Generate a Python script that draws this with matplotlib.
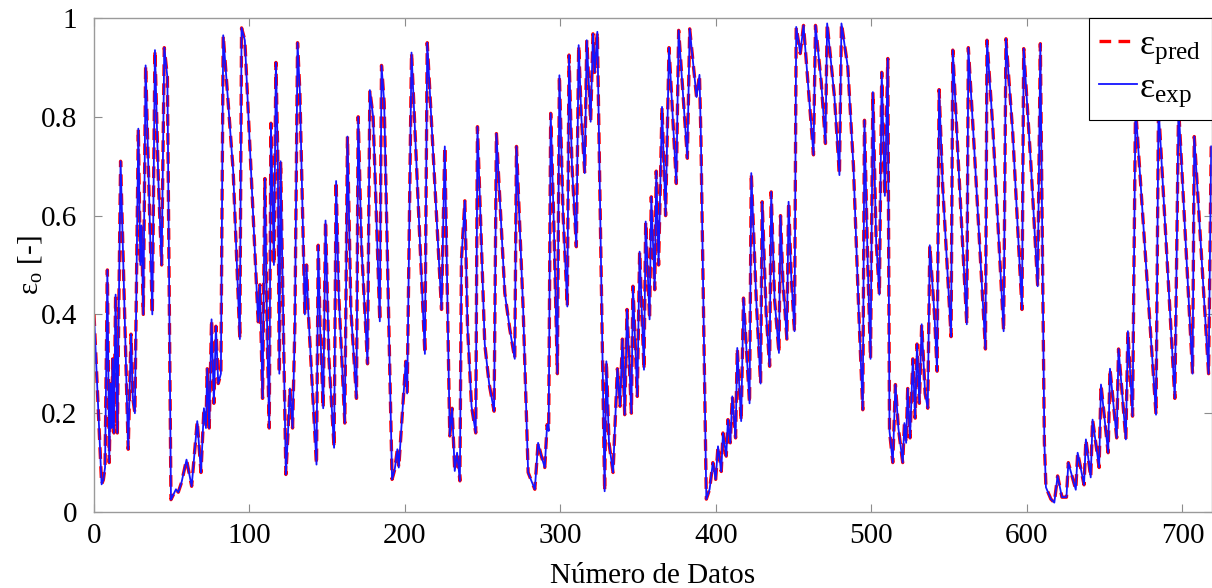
import matplotlib
matplotlib.use("Agg")
import matplotlib.pyplot as plt

plt.rcParams["font.family"] = ["Liberation Serif", "DejaVu Serif"]
plt.rcParams["mathtext.fontset"] = "custom"
plt.rcParams["mathtext.rm"] = "Liberation Serif"
plt.rcParams["mathtext.it"] = "Liberation Serif:italic"

# turning points of the series (data index, epsilon_o)
idx = [
    0, 4.9, 6.0, 7.1, 8.6, 9.8, 10.7, 11.4, 12.0, 12.8, 13.9, 15.0, 17.1, 22.0,
    23.8, 25.0, 26.3, 28.5, 29.8, 30.6, 31.7, 33.2, 35.6, 37.5, 39.2, 41.3,
    43.5, 45.2, 47.2, 49.5, 52.7, 54.2, 56.3, 59.5, 62.8, 66.4, 68.8, 70.7,
    72.0, 72.8, 74.1, 75.6, 77.1, 78.4, 79.9, 81.6, 83.1, 89.5, 93.8, 94.9,
    97.0, 104.6, 105.6, 106.7, 108.4, 109.9, 111.5, 112.7, 113.8, 115.7, 117.0,
    118.2, 119.2, 120.0, 123.4, 124.6, 126.0, 127.7, 129.2, 130.9, 132.4,
    135.6, 136.7, 137.7, 143.1, 144.2, 145.4, 147.4, 148.9, 151.0, 154.4,
    155.7, 157.4, 161.3, 163.0, 165.2, 168.8, 169.9, 172.0, 175.9, 177.4,
    179.5, 183.8, 184.9, 186.6, 191.7, 193.4, 195.1, 196.0, 197.7, 199.0,
    200.5, 201.4, 204.2, 212.8, 214.3, 223.5, 225.6, 228.8, 230.3, 232.0,
    233.5, 235.3, 236.3, 238.5, 240.2, 242.8, 245.5, 246.6, 251.3, 254.1,
    257.3, 258.8, 260.1, 264.2, 267.4, 270.6, 271.7, 276.0, 279.2, 281.3,
    283.5, 285.6, 287.7, 289.9, 291.4, 292.4, 293.7, 295.7, 298.0, 299.3,
    301.7, 304.4, 305.5, 307.4, 310.2, 311.7, 313.4, 315.6, 316.9, 319.4,
    320.9, 322.0, 323.7, 328.4, 329.5, 331.2, 333.8, 336.6, 338.3, 339.8,
    341.3, 342.8, 345.6, 346.6, 349.4, 350.9, 353.7, 354.8, 357.3, 358.4,
    360.6, 361.6, 363.1, 365.3, 367.6, 369.8, 374.5, 376.0, 381.6, 383.1,
    387.5, 389.4, 390.3, 393.8, 395.9, 398.0, 399.8, 401.3, 403.4, 404.5,
    406.6, 407.7, 409.2, 410.5, 412.6, 413.7, 416.2, 417.7, 421.6, 422.7,
    425.9, 428.7, 429.7, 432.3, 434.5, 435.5, 437.7, 440.5, 441.5, 443.0,
    445.6, 446.7, 448.4, 450.5, 451.6, 454.2, 456.3, 459.1, 462.7, 464.0,
    467.7, 470.4, 471.5, 476.2, 479.4, 480.7, 484.8, 488.4, 491.9, 494.4,
    495.5, 497.6, 499.4, 500.9, 503.0, 505.1, 506.6, 508.6, 510.5, 511.6,
    513.7, 515.4, 517.3, 520.1, 521.2, 522.3, 523.3, 524.8, 526.6, 528.1,
    529.3, 530.8, 532.3, 534.5, 536.2, 537.5, 540.5, 542.2, 543.5, 545.8,
    551.2, 552.3, 555.5, 561.3, 562.3, 566.2, 573.3, 574.3, 578.0, 585.0,
    586.5, 590.8, 596.8, 597.9, 602.6, 606.9, 608.6, 611.2, 612.2, 615.4,
    617.6, 619.7, 622.5, 625.4, 626.6, 631.4, 632.6, 636.7, 637.9, 641.0,
    642.2, 646.4, 647.6, 652.2, 653.4, 657.7, 658.9, 663.6, 664.9, 667.9,
    669.8, 683.0, 684.6, 695.1, 697.5, 706.5, 707.6, 716.8, 718.5,
]

eps_exp = [
    0.40, 0.056, 0.065, 0.09, 0.49, 0.10, 0.26, 0.17, 0.31, 0.16, 0.44, 0.16,
    0.71, 0.127, 0.36, 0.23, 0.20, 0.776, 0.50, 0.58, 0.40, 0.904, 0.62, 0.40,
    0.935, 0.68, 0.50, 0.94, 0.88, 0.025, 0.046, 0.04, 0.06, 0.106, 0.052,
    0.184, 0.08, 0.21, 0.17, 0.29, 0.17, 0.39, 0.22, 0.376, 0.26, 0.28, 0.965,
    0.69, 0.35, 0.98, 0.955, 0.45, 0.385, 0.46, 0.23, 0.675, 0.34, 0.17, 0.787,
    0.50, 0.91, 0.72, 0.28, 0.71, 0.076, 0.15, 0.25, 0.17, 0.38, 0.95, 0.85,
    0.40, 0.50, 0.41, 0.096, 0.54, 0.376, 0.21, 0.59, 0.315, 0.13, 0.67, 0.44,
    0.18, 0.76, 0.41, 0.23, 0.80, 0.54, 0.30, 0.854, 0.80, 0.386, 0.904, 0.83,
    0.066, 0.086, 0.127, 0.09, 0.17, 0.23, 0.305, 0.24, 0.93, 0.32, 0.95, 0.41,
    0.74, 0.154, 0.21, 0.083, 0.12, 0.063, 0.51, 0.63, 0.376, 0.214, 0.16,
    0.78, 0.34, 0.26, 0.204, 0.766, 0.686, 0.443, 0.37, 0.31, 0.74, 0.41, 0.08,
    0.063, 0.046, 0.14, 0.113, 0.09, 0.177, 0.164, 0.807, 0.585, 0.28, 0.884,
    0.60, 0.416, 0.925, 0.70, 0.537, 0.945, 0.80, 0.686, 0.955, 0.79, 0.968,
    0.89, 0.972, 0.042, 0.305, 0.14, 0.08, 0.29, 0.214, 0.35, 0.197, 0.41,
    0.20, 0.457, 0.234, 0.527, 0.288, 0.588, 0.39, 0.638, 0.45, 0.69, 0.50,
    0.82, 0.60, 0.94, 0.665, 0.975, 0.716, 0.978, 0.84, 0.885, 0.76, 0.026,
    0.046, 0.10, 0.066, 0.133, 0.082, 0.16, 0.113, 0.187, 0.14, 0.234, 0.15,
    0.332, 0.184, 0.433, 0.22, 0.686, 0.43, 0.26, 0.628, 0.40, 0.295, 0.648,
    0.43, 0.322, 0.60, 0.47, 0.35, 0.628, 0.477, 0.366, 0.982, 0.928, 0.985,
    0.87, 0.723, 0.985, 0.87, 0.746, 0.989, 0.84, 0.682, 0.989, 0.90, 0.70,
    0.40, 0.207, 0.793, 0.50, 0.31, 0.85, 0.55, 0.44, 0.89, 0.64, 0.918, 0.164,
    0.10, 0.258, 0.17, 0.10, 0.18, 0.14, 0.25, 0.15, 0.31, 0.19, 0.34, 0.22,
    0.38, 0.24, 0.21, 0.54, 0.40, 0.285, 0.855, 0.66, 0.355, 0.935, 0.73, 0.38,
    0.94, 0.73, 0.33, 0.955, 0.78, 0.366, 0.958, 0.77, 0.41, 0.938, 0.70,
    0.457, 0.948, 0.14, 0.05, 0.026, 0.019, 0.073, 0.03, 0.03, 0.10, 0.045,
    0.12, 0.055, 0.147, 0.07, 0.187, 0.09, 0.258, 0.12, 0.29, 0.15, 0.33,
    0.147, 0.366, 0.194, 0.82, 0.197, 0.82, 0.23, 0.82, 0.28, 0.76, 0.28, 0.74,
]

# the model follows the measurements so closely that both traces coincide
eps_pred = list(eps_exp)

xticks = [0, 100, 200, 300, 400, 500, 600, 700]
yticks = [0, 0.2, 0.4, 0.6, 0.8, 1]
ytick_labels = ["0", "0.2", "0.4", "0.6", "0.8", "1"]

fig = plt.figure(figsize=(12.12, 5.88), dpi=100)
ax = fig.add_axes([94 / 1212, 1 - 512 / 588, 1 - 94 / 1212, (512 - 18) / 588])

ax.plot(idx, eps_pred, color="red", linestyle="--", linewidth=2.4,
        dashes=(3.5, 2.2), label="ε$_{\\mathrm{pred}}$")
ax.plot(idx, eps_exp, color="#1414ff", linewidth=1.3,
        label="ε$_{\\mathrm{exp}}$")

ax.set_xlim(0, 719)
ax.set_ylim(0, 1)
ax.set_xticks(xticks)
ax.set_yticks(yticks)
ax.set_yticklabels(ytick_labels)
ax.tick_params(direction="in", length=6, width=0.8, color="#8c8c8c",
               top=True, right=True, labelsize=21)
ax.tick_params(axis="y", pad=12)
ax.tick_params(axis="x", pad=8)
for s in ax.spines.values():
    s.set_color("#9a9a9a")
    s.set_linewidth(1.0)

ax.set_xlabel("Número de Datos", fontsize=21, labelpad=10)
ax.set_ylabel("ε$_{\\mathrm{o}}$ [-]", fontsize=21, labelpad=-2)

leg = ax.legend(loc="upper right", bbox_to_anchor=(1.0, 1.0), borderaxespad=0,
                fontsize=26, handlelength=1.05, handletextpad=0.05,
                labelspacing=0.15, borderpad=0.3, fancybox=False,
                framealpha=1, edgecolor="black")
leg.get_frame().set_linewidth(0.8)

fig.savefig("out.png", dpi=100)
